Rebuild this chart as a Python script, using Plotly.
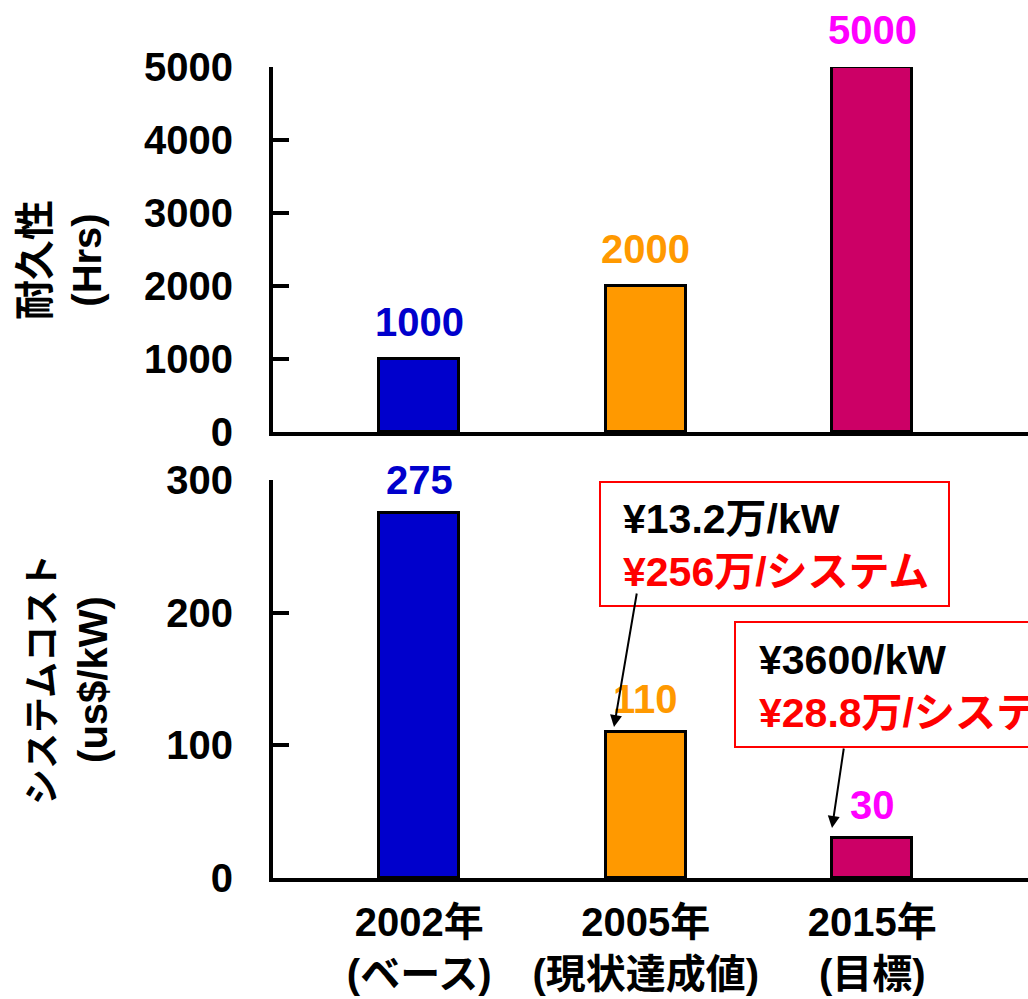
import plotly.graph_objects as go

# Categories and values
categories = ["2002年<br>(ベース)", "2005年<br>(現状達成値)", "2015年<br>(目標)"]
durability_hrs = [1000, 2000, 5000]
system_cost_usd_kw = [275, 110, 30]
durability_ticks = [0, 1000, 2000, 3000, 4000, 5000]
cost_ticks = [0, 100, 200, 300]

bar_colors = ["#0000CC", "#FF9900", "#CC0066"]
label_colors = ["#0000CC", "#FF9900", "#FF00FF"]

FONT = "Liberation Sans, Arial, Noto Sans CJK JP, sans-serif"
W, H = 1028, 999


def px_x(p):
    return p / W


def px_y(p):
    return 1 - p / H


fig = go.Figure()

fig.add_trace(go.Bar(
    x=categories, y=durability_hrs, xaxis="x", yaxis="y",
    marker=dict(color=bar_colors, line=dict(color="black", width=3)),
    width=0.352, showlegend=False, hoverinfo="skip",
))
fig.add_trace(go.Bar(
    x=categories, y=system_cost_usd_kw, xaxis="x2", yaxis="y2",
    marker=dict(color=bar_colors, line=dict(color="black", width=3)),
    width=0.352, showlegend=False, hoverinfo="skip",
))

annotations = []

# value labels above bars
for cat, v, c in zip(categories, durability_hrs, label_colors):
    annotations.append(dict(
        x=cat, y=v, xref="x", yref="y", text=str(v), showarrow=False,
        yanchor="middle", yshift=37,
        font=dict(family=FONT, size=40, color=c, weight="bold"),
    ))
for cat, v, c in zip(categories, system_cost_usd_kw, label_colors):
    annotations.append(dict(
        x=cat, y=v, xref="x2", yref="y2", text=str(v), showarrow=False,
        yanchor="middle", yshift=33,
        font=dict(family=FONT, size=40, color=c, weight="bold"),
    ))

# axis titles
annotations.append(dict(
    x=px_x(61), y=px_y(260), xref="paper", yref="paper",
    text="耐久性<br>(Hrs)", textangle=-90, showarrow=False,
    xanchor="center", yanchor="middle",
    font=dict(family=FONT, size=40, color="black", weight="bold"),
))
annotations.append(dict(
    x=px_x(68), y=px_y(680), xref="paper", yref="paper",
    text="<span style='font-size:36px'>システムコスト</span><br>(us$/kW)",
    textangle=-90, showarrow=False,
    xanchor="center", yanchor="middle",
    font=dict(family=FONT, size=40, color="black", weight="bold"),
))

# price callouts
callout_font = dict(family=FONT, size=41, color="black", weight="bold")
annotations.append(dict(
    x=px_x(621), y=px_y(545), xref="paper", yref="paper",
    text="¥13.2万/kW<br><span style='color:#FF0000'>¥256万/システム</span>",
    showarrow=False, xanchor="left", yanchor="middle", align="left",
    font=callout_font,
))
annotations.append(dict(
    x=px_x(757), y=px_y(686), xref="paper", yref="paper",
    text="¥3600/kW<br><span style='color:#FF0000'>¥28.8万/システム</span>",
    showarrow=False, xanchor="left", yanchor="middle", align="left",
    font=callout_font,
))

# arrows from callouts to bars
annotations.append(dict(
    x=px_x(614), y=px_y(727), xref="paper", yref="paper", text="",
    showarrow=True, ax=23, ay=-135, arrowhead=2, arrowsize=1.2,
    arrowwidth=2, arrowcolor="black",
))
annotations.append(dict(
    x=px_x(832), y=px_y(828), xref="paper", yref="paper", text="",
    showarrow=True, ax=12, ay=-81, arrowhead=2, arrowsize=1.2,
    arrowwidth=2, arrowcolor="black",
))

shapes = [
    dict(type="rect", xref="paper", yref="paper",
         x0=px_x(600), x1=px_x(949), y0=px_y(606), y1=px_y(482),
         line=dict(color="#FF0000", width=2), fillcolor="rgba(0,0,0,0)"),
    dict(type="rect", xref="paper", yref="paper",
         x0=px_x(735), x1=px_x(1060), y0=px_y(747), y1=px_y(622),
         line=dict(color="#FF0000", width=2), fillcolor="rgba(0,0,0,0)"),
]

x_dom = [px_x(273), 1.0]
x_range = [-0.645, 2.687]
tickfont = dict(family=FONT, size=40, color="black", weight="bold")

fig.update_layout(
    width=W, height=H,
    margin=dict(l=0, r=0, t=0, b=0, autoexpand=False),
    paper_bgcolor="white", plot_bgcolor="white",
    bargap=0,
    xaxis=dict(domain=x_dom, range=x_range, anchor="y", type="category",
               showline=True, linecolor="black", linewidth=4,
               showticklabels=False, ticks="", showgrid=False, zeroline=False,
               automargin=False),
    yaxis=dict(domain=[px_y(432), px_y(67)], range=[0, 5000], anchor="x",
               tickvals=durability_ticks, ticks="inside", ticklen=16, tickwidth=4,
               tickcolor="black", showline=True, linecolor="black", linewidth=4,
               showgrid=False, zeroline=False, tickfont=tickfont,
               ticklabelstandoff=28, automargin=False),
    xaxis2=dict(domain=x_dom, range=x_range, anchor="y2", type="category",
                showline=True, linecolor="black", linewidth=4,
                ticks="", showgrid=False, zeroline=False,
                tickfont=dict(family=FONT, size=40, color="black", weight="bold"),
                ticklabelstandoff=6, automargin=False),
    yaxis2=dict(domain=[px_y(878), px_y(480)], range=[0, 300], anchor="x2",
                tickvals=cost_ticks, ticks="inside", ticklen=16, tickwidth=4,
                tickcolor="black", showline=True, linecolor="black", linewidth=4,
                showgrid=False, zeroline=False, tickfont=tickfont,
                ticklabelstandoff=28, automargin=False),
    annotations=annotations,
    shapes=shapes,
)

fig.write_html("out.html")
